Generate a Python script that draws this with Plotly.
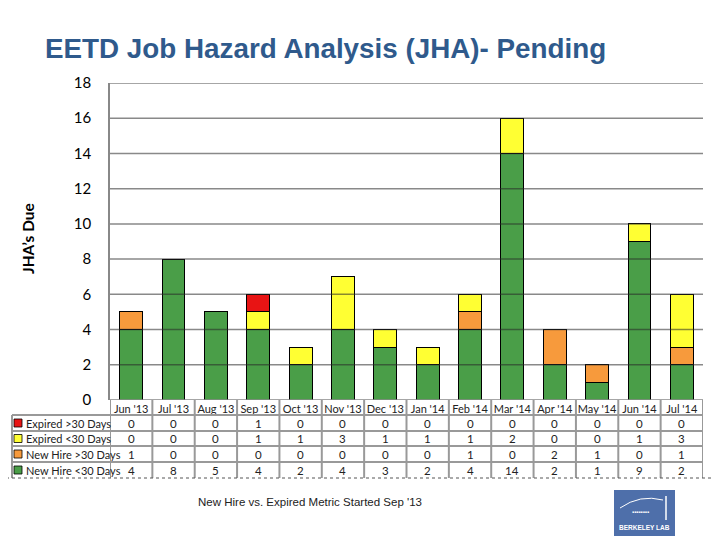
import plotly.graph_objects as go

months = ["Jun '13", "Jul '13", "Aug '13", "Sep '13", "Oct '13", "Nov '13", "Dec '13",
          "Jan '14", "Feb '14", "Mar '14", "Apr '14", "May '14", "Jun '14", "Jul '14"]
expired_gt30 = [0, 0, 0, 1, 0, 0, 0, 0, 0, 0, 0, 0, 0, 0]
expired_lt30 = [0, 0, 0, 1, 1, 3, 1, 1, 1, 2, 0, 0, 1, 3]
newhire_gt30 = [1, 0, 0, 0, 0, 0, 0, 0, 1, 0, 2, 1, 0, 1]
newhire_lt30 = [4, 8, 5, 4, 2, 4, 3, 2, 4, 14, 2, 1, 9, 2]
y_ticks = [0, 2, 4, 6, 8, 10, 12, 14, 16, 18]

series_names = ["Expired >30 Days", "Expired <30 Days", "New Hire >30 Days", "New Hire <30 Days"]
series_vals = [expired_gt30, expired_lt30, newhire_gt30, newhire_lt30]
series_colors = ["#E81414", "#FFFF33", "#F79A3C", "#4A9E48"]

CAL = "Lato, Carlito, Calibri, 'Liberation Sans', sans-serif"
ARIAL = "'Liberation Sans', Arial, sans-serif"

fig = go.Figure()
# stack from bottom: New Hire <30, New Hire >30, Expired <30, Expired >30
for name, vals, col in reversed(list(zip(series_names, series_vals, series_colors))):
    fig.add_trace(go.Bar(x=months, y=vals, name=name, marker_color=col,
                         marker_line_color="black", marker_line_width=1))

# the page adds an 8px body margin, so the figure is laid out 8px up/left
OFF = 8
W, H = 720 - OFF, 540 - OFF
L, R = 110 - OFF, W - (703 - OFF)
T, B = 83 - OFF, H - (400 - OFF)
pw = W - L - R
ph = H - T - B

def px_x(px):
    return (px - OFF - L) / pw

def px_y(py):
    return (H - B - (py - OFF)) / ph

shapes = []
# gridlines drawn above bars (semi-transparent like the original)
for v in y_ticks[1:]:
    shapes.append(dict(type="line", xref="paper", yref="y", x0=0, x1=1, y0=v, y1=v,
                       line=dict(color="rgba(40,40,40,0.55)", width=1.5), layer="above"))
shapes.append(dict(type="line", xref="paper", yref="y", x0=0, x1=1, y0=0, y1=0,
                   line=dict(color="#888888", width=1.5), layer="above"))

# data table
grid_col = "#999999"
row_edges = [415, 431, 446, 462]
y_bottom = px_y(478)
for i in range(len(months) + 1):
    shapes.append(dict(type="line", xref="x", yref="paper", x0=i - 0.5, x1=i - 0.5,
                       y0=y_bottom, y1=0, line=dict(color=grid_col, width=2)))
for py in row_edges:
    shapes.append(dict(type="line", xref="paper", yref="paper", x0=px_x(12), x1=1,
                       y0=px_y(py), y1=px_y(py), line=dict(color=grid_col, width=2)))
shapes.append(dict(type="line", xref="paper", yref="paper", x0=px_x(12), x1=px_x(12),
                   y0=y_bottom, y1=px_y(415), line=dict(color=grid_col, width=2)))
# dotted separator line
shapes.append(dict(type="line", xref="paper", yref="paper", x0=px_x(0), x1=px_x(720),
                   y0=px_y(478), y1=px_y(478), line=dict(color="#555555", width=1, dash="dot")))

annotations = []
row_centers = [423, 438.5, 454, 470]
for name, vals, col, rc in zip(series_names, series_vals, series_colors, row_centers):
    shapes.append(dict(type="rect", xref="paper", yref="paper",
                       x0=px_x(14), x1=px_x(22), y0=px_y(rc + 4), y1=px_y(rc - 4),
                       fillcolor=col, line=dict(color="black", width=0.8)))
    annotations.append(dict(text=name, xref="paper", yref="paper", x=px_x(24), y=px_y(rc),
                            xanchor="left", yanchor="middle", showarrow=False,
                            font=dict(family=CAL, size=11, color="#222222")))
    for m, v in zip(months, vals):
        annotations.append(dict(text=str(v), xref="x", yref="paper", x=m, y=px_y(rc),
                                xanchor="center", yanchor="middle", showarrow=False,
                                font=dict(family=CAL, size=11.5, color="#222222")))

# y-axis title
annotations.append(dict(text="<b>JHA’s Due</b>", xref="paper", yref="paper", x=px_x(28),
                        y=px_y(239), textangle=-90, showarrow=False, xanchor="center",
                        yanchor="middle", font=dict(family=CAL, size=15.5, color="black")))
# caption
annotations.append(dict(text="New Hire vs. Expired Metric Started Sep '13", xref="paper", yref="paper",
                        x=px_x(310), y=px_y(502), showarrow=False, xanchor="center", yanchor="middle",
                        font=dict(family=ARIAL, size=11.5, color="#222222")))
# logo
shapes.append(dict(type="rect", xref="paper", yref="paper", x0=px_x(614), x1=px_x(675),
                   y0=px_y(536), y1=px_y(490), fillcolor="#4E6FAA", line=dict(width=0)))
shapes.append(dict(type="path", xref="paper", yref="paper",
                   path=f"M {px_x(620)},{px_y(508)} Q {px_x(640)},{px_y(494)} {px_x(663)},{px_y(500)}",
                   line=dict(color="white", width=1)))
shapes.append(dict(type="line", xref="paper", yref="paper", x0=px_x(666), x1=px_x(666),
                   y0=px_y(520), y1=px_y(496), line=dict(color="white", width=1.5)))
annotations.append(dict(text="▪▪▪▪▪▪▪▪", xref="paper", yref="paper", x=px_x(640), y=px_y(512),
                        xanchor="center", yanchor="middle",
                        showarrow=False, font=dict(family=ARIAL, size=6, color="white")))
annotations.append(dict(text="<b>BERKELEY LAB</b>", xref="paper", yref="paper", x=px_x(644), y=px_y(527),
                        xanchor="center", yanchor="middle",
                        showarrow=False, font=dict(family=ARIAL, size=6.5, color="white")))

fig.update_layout(
    width=W, height=H,
    margin=dict(l=L, r=R, t=T, b=B, pad=0),
    barmode="stack", bargap=0.46,
    paper_bgcolor="white", plot_bgcolor="white",
    showlegend=False,
    title=dict(text="<b>EETD Job Hazard Analysis (JHA)- Pending</b>", xref="container", yref="container",
               x=(45 - OFF) / W, y=1 - (48 - OFF) / H, xanchor="left", yanchor="middle",
               font=dict(family=ARIAL, size=27.8, color="#2F5A8C")),
    xaxis=dict(type="category", range=[-0.5, len(months) - 0.5], showgrid=False, showline=False,
               zeroline=False, ticks="", tickangle=0, ticklabelstandoff=1,
               tickfont=dict(family=CAL, size=11, color="#222222")),
    yaxis=dict(range=[0, 18], tickvals=y_ticks, showgrid=False, zeroline=False,
               showline=True, linecolor="#888888", linewidth=1.5, ticks="",
               ticklabelstandoff=14, tickfont=dict(family=CAL, size=15, color="black")),
    shapes=shapes, annotations=annotations,
)

fig.write_html("out.html")
